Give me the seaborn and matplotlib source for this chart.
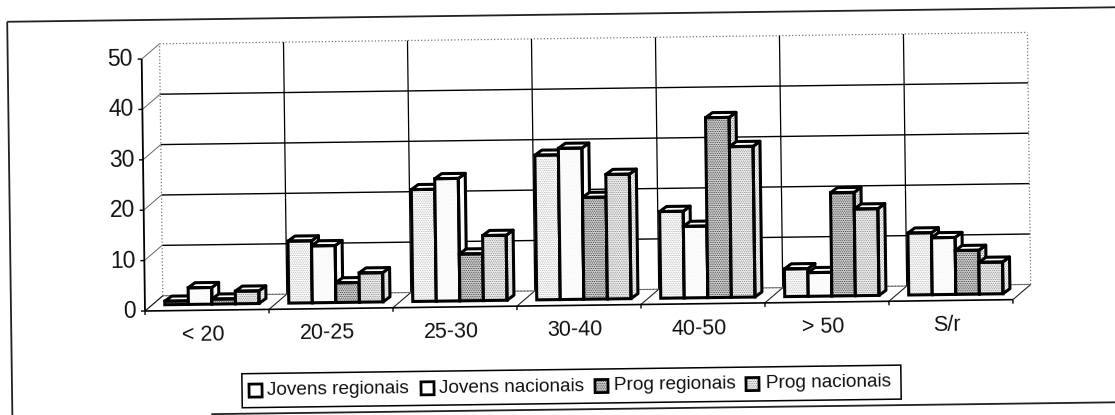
import pandas as pd
import matplotlib
matplotlib.use('Agg')
import matplotlib.pyplot as plt
from matplotlib.patches import Polygon, Rectangle
from matplotlib.transforms import Affine2D
import seaborn as sns

# values
faixas = ['< 20', '20-25', '25-30', '30-40', '40-50', '> 50', 'S/r']
series = ['Jovens regionais', 'Jovens nacionais', 'Prog regionais', 'Prog nacionais']
jovens_regionais = [0.7, 12.3, 22.2, 28.7, 17.2, 5.5, 12.3]
jovens_nacionais = [3.3, 11.3, 24.3, 30.0, 14.2, 4.7, 11.3]
prog_regionais = [1.0, 3.9, 9.3, 20.2, 35.7, 20.5, 8.7]
prog_nacionais = [2.5, 5.8, 12.9, 24.7, 29.9, 17.2, 6.3]
y_ticks = [0, 10, 20, 30, 40, 50]

fills = ['#ffffff', '#ffffff', '#d4d4d4', '#f2f2f2']
dots = ['#b0b0b0', '#f0f0f0', '#303030', '#808080']
side_fills = ['#ffffff', '#ffffff', '#f0f0f0', '#f8f8f8']
side_dots = ['#d0d0d0', '#f4f4f4', '#707070', '#a0a0a0']

df = pd.DataFrame({'faixa': faixas * 4,
                   'serie': [s for s in series for _ in faixas],
                   'valor': jovens_regionais + jovens_nacionais + prog_regionais + prog_nacionais})

W, H = 1115, 415
sns.set_theme(style='white')
plt.rcParams['font.family'] = ['Liberation Sans', 'DejaVu Sans']
plt.rcParams['hatch.linewidth'] = 0.5

fig = plt.figure(figsize=(W / 100, H / 100), dpi=100)
ax = fig.add_axes([145 / W, (H - 311) / H, 868 / W, 252 / H])

sns.barplot(data=df, x='faixa', y='valor', hue='serie', hue_order=series, palette=fills,
            width=0.76, gap=0, legend=False, ax=ax)
ax.set_xlim(-0.5, 6.5)
ax.set_ylim(0, 50)
ax.set_axis_off()

# the page was scanned slightly crooked: everything turns around the chart origin
rot = Affine2D().rotate_deg_around(145, H - 311, 0.75)
DX, DY = 18, 15     # depth of the floor
BX, BY = 7, 5       # depth of one bar
SX, SY = 5, 6       # bars stand a bit inside the floor
EDGE = 2.2


def to_px(x, y):
    return ax.transData.transform((x, y))


def line(xs, ys, color='black', lw=0.9, ls='-', z=1):
    ax.plot(xs, ys, color=color, lw=lw, ls=ls, zorder=z, transform=rot,
            clip_on=False, solid_capstyle='butt')


def label(x, y, txt, size, ha='center', z=1):
    ax.text(x, y, txt, fontsize=size, color='#111111', ha=ha, va='center', zorder=z,
            transform=rot, rotation=0.75, rotation_mode='anchor', clip_on=False)


# back wall, left wall and floor
x0, y0 = to_px(-0.5, 0)
x1, y1 = to_px(6.5, 0)
for v in y_ticks:
    _, yv = to_px(-0.5, v)
    inner = 0 < v < 50
    line([x0 + DX, x1 + DX], [yv + DY, yv + DY], color='black' if inner else '#777777',
         lw=1.0 if inner else 0.9, ls='-' if inner else ':')
    line([x0, x0 + DX], [yv, yv + DY], color='#666666', lw=0.7)
    line([x0 - 4, x0], [yv, yv], lw=1)
    label(x0 - 9, yv, str(v), 16.5, ha='right')
_, ytop = to_px(-0.5, 50)
for i in range(8):
    xi, _ = to_px(i - 0.5, 0)
    if 0 < i < 7:
        line([xi + DX, xi + DX], [y0 + DY, ytop + DY], lw=0.9)
    else:
        line([xi + DX, xi + DX], [y0 + DY, ytop + DY], color='#777777', lw=0.9, ls=':')
    line([xi, xi + DX], [y0, y0 + DY], lw=0.8, color='#222222')
    line([xi, xi], [y0, y0 - 4], lw=1)
line([x0, x0], [y0, ytop], lw=1.3, z=2)
line([x0, x1], [y0, y0], lw=1.2, z=2)
line([x0 + DX, x1 + DX], [y0 + DY, y0 + DY], color='#666666', lw=0.7)

for i, f in enumerate(faixas):
    xc, _ = to_px(i, 0)
    label(xc - 4, y0 - 25, f, 15.5)

# turn the seaborn bars into boxes, left to right so each covers its neighbour's side
shift = Affine2D().translate(SX, SY) + rot
for s, cont in enumerate(ax.containers):
    for j, bar in enumerate(cont):
        z = 3 + j + s * 0.1
        bar.set(transform=ax.transData + shift, facecolor=fills[s], edgecolor=dots[s],
                hatch='.........', linewidth=0, zorder=z, clip_on=False)
        (ax_, ay), (bx, by) = ax.transData.transform(
            [(bar.get_x(), 0), (bar.get_x() + bar.get_width(), bar.get_height())])
        ax_, bx, ay, by = ax_ + SX, bx + SX, ay + SY, by + SY
        top = [(ax_, by), (bx, by), (bx + BX, by + BY), (ax_ + BX, by + BY)]
        side = [(bx, ay), (bx, by), (bx + BX, by + BY), (bx + BX, ay + BY)]
        ax.add_patch(Polygon(side, closed=True, fc=side_fills[s], ec=side_dots[s], lw=0, zorder=z,
                             hatch='.........', transform=rot, clip_on=False))
        ax.add_patch(Polygon(side, closed=True, fc='none', ec='black', lw=EDGE, zorder=z,
                             joinstyle='round', transform=rot, clip_on=False))
        ax.add_patch(Polygon(top, closed=True, fc='white', ec='black', lw=EDGE, zorder=z,
                             joinstyle='round', transform=rot, clip_on=False))
        ax.add_patch(Rectangle((ax_, ay), bx - ax_, by - ay, fc='none', ec='black', lw=EDGE,
                               zorder=z + 0.01, transform=rot, clip_on=False))

# what is left of the outer frame: no right edge, bottom line starts under the legend
frame = '#222222'
line([11, W + 20], [H - 20, H - 20], color=frame, lw=1.3, z=0)
line([11, 11], [H - 20, -10], color=frame, lw=1.3, z=0)
line([210, W + 20], [0, 0], color=frame, lw=1.3, z=0)

# legend, built by hand so it tilts with the rest
lx, ly, lw_, lh = 241, H - 409, 659, 34
ax.add_patch(Rectangle((lx, ly), lw_, lh, fc='white', ec='black', lw=1.1, zorder=20,
                       transform=rot, clip_on=False))
starts = [247, 419, 593, 744]
text_x = [266, 438, 613, 765]
for s, name in enumerate(series):
    ax.add_patch(Rectangle((starts[s] + 1, ly + lh / 2 - 6.5), 13, 13, fc=fills[s], ec=dots[s], lw=0,
                           zorder=21, hatch='.........' if s > 1 else None, transform=rot, clip_on=False))
    ax.add_patch(Rectangle((starts[s] + 1, ly + lh / 2 - 6.5), 13, 13, fc='none', ec='black', lw=2.0,
                           zorder=21, transform=rot, clip_on=False))
    label(text_x[s], ly + lh / 2, name, 13.7, ha='left', z=21)

fig.savefig('out.png', dpi=100)
